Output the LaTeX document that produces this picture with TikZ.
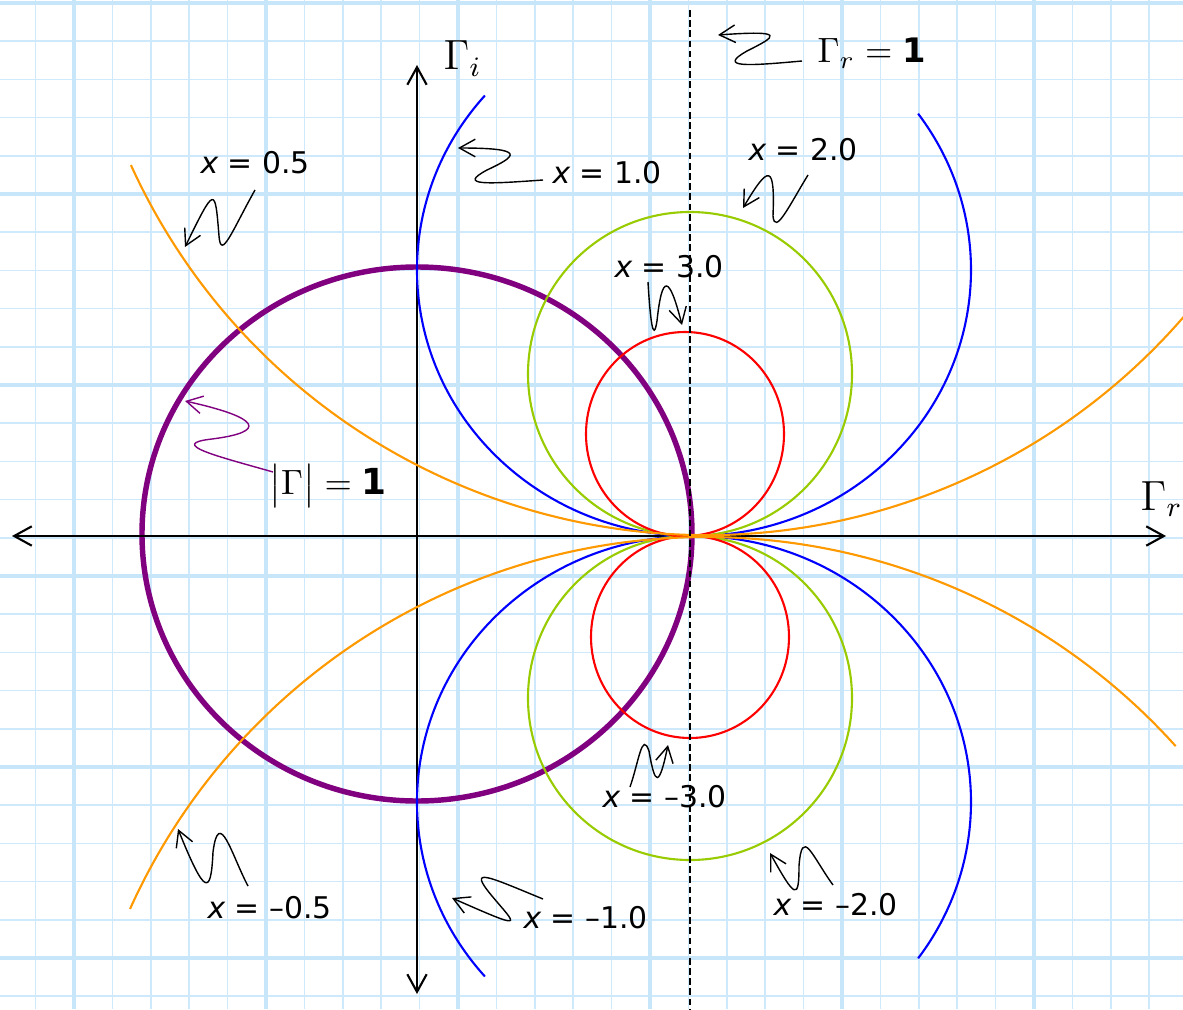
\documentclass[tikz,border=0pt]{standalone}
\usepackage{fontspec}
\newfontfamily\lblfont{DejaVu Sans}
\usetikzlibrary{arrows.meta}

\definecolor{gridmaj}{RGB}{200,230,250}
\definecolor{gridmin}{RGB}{206,233,251}
\definecolor{rxgreen}{RGB}{153,204,0}
\definecolor{rxorange}{RGB}{255,153,0}
\definecolor{gpurple}{RGB}{128,0,128}

\tikzset{
  axis/.style={line width=0.6pt, {Straight Barb[length=5pt,width=5.5pt]}-{Straight Barb[length=5pt,width=5.5pt]}},
  curve/.style={line width=0.6pt},
  squig/.style={line width=0.4pt, -{Straight Barb[length=4.5pt,width=5pt]}},
  xlbl/.style={anchor=base west, inner sep=0pt, font=\lblfont\fontsize{8.5}{10}\selectfont},
  glbl/.style={anchor=base west, inner sep=0pt, font=\fontsize{11.7}{14}\selectfont},
}

\begin{document}
\begin{tikzpicture}[x=0.1mm, y=0.1mm]

    \clip (-417,-473) rectangle (766,536);
    \fill[white] (-417,-473) rectangle (766,536);

    % graph paper
    \foreach \i in {-1,...,28}
        \draw[gridmin, line width=0.15mm] ({-343+38.4*\i},-473) -- ++(0,1009);
    \foreach \j in {0,...,26}
        \draw[gridmin, line width=0.15mm] (-417,{533-38.2*\j}) -- ++(1183,0);
    \foreach \i in {0,5,...,25}
        \draw[gridmaj, line width=0.35mm] ({-343+38.4*\i},-473) -- ++(0,1009);
    \foreach \j in {0,5,...,25}
        \draw[gridmaj, line width=0.35mm] (-417,{533-38.2*\j}) -- ++(1183,0);

    % |Gamma| = 1
    \draw[gpurple, line width=1.55pt] (0,2) ellipse [x radius=275, y radius=267];

    \draw[axis] (-405,0) -- (749,0);
    \draw[axis] (0,471) -- (0,-458);

    % reactance circles
    \draw[curve, blue] (277,266) ++(139:277 and 266) arc[start angle=139, end angle=396, x radius=277, y radius=266];
    \draw[curve, blue] (277,-266) ++(221:277 and 266) arc[start angle=221, end angle=-36, x radius=277, y radius=266];
    \draw[curve, rxgreen] (273,162) circle[radius=162];
    \draw[curve, rxgreen] (273,-162) circle[radius=162];
    \draw[curve, red] (268,102) ellipse[x radius=99, y radius=102];
    \draw[curve, red] (273,-101) ellipse[x radius=99, y radius=101];
    \draw[curve, rxorange] (289,633) ++(204.5:632) arc[start angle=204.5, end angle=325, radius=632];
    \draw[curve, rxorange] (289,-633) ++(155.7:632) arc[start angle=155.7, end angle=42, radius=632];

    % Gamma_r = 1
    \draw[line width=0.4pt, dash pattern=on 1.9pt off 1pt] (273,526) -- (273,-473);

    \node[glbl] (gi) at (26,466) {$\Gamma_i$};
    \node[glbl] (gr) at (723,26) {$\Gamma_r$};
    \node[anchor=base west, inner sep=0pt, font=\fontsize{9.6}{12}\selectfont] (gr1) at (400,473) {$\Gamma_r = \mbox{\lblfont\bfseries 1}$};
    \node[inner sep=0pt, font=\fontsize{10.2}{13}\selectfont] (mag) at (-89,50) {$\bigl|\Gamma\bigr| = \mbox{\lblfont\bfseries 1}$};

    \node[xlbl] (xp05) at (-217,363) {{\itshape x} = 0.5};
    \node[xlbl] (xp1) at (135,353) {{\itshape x} = 1.0};
    \node[xlbl] (xp2) at (331,376) {{\itshape x} = 2.0};
    \node[xlbl] (xp3) at (197,259) {{\itshape x} = 3.0};
    \node[xlbl] (xm3) at (185,-271) {{\itshape x} = –3.0};
    \node[xlbl] (xm1) at (106,-392) {{\itshape x} = –1.0};
    \node[xlbl] (xm2) at (356,-379) {{\itshape x} = –2.0};
    \node[xlbl] (xm05) at (-210,-382) {{\itshape x} = –0.5};

    % pointers
    \draw[squig] (385,475) .. controls (330,470) and (300,468) .. (330,485) .. controls (360,500) and (370,506) .. (301,501);
    \draw[squig] (126,356) .. controls (70,352) and (40,350) .. (70,366) .. controls (100,380) and (110,388) .. (41,388);
    \draw[squig, gpurple] (-144,64) .. controls (-200,80) and (-250,92) .. (-205,97) .. controls (-150,104) and (-155,118) .. (-232,135);
    \draw[squig] (-162,346) .. controls (-185,305) and (-196,275) .. (-198,300) .. controls (-202,350) and (-202,350) .. (-232,289);
    \draw[squig] (391,361) .. controls (372,330) and (358,300) .. (356,320) .. controls (358,372) and (352,372) .. (326,328);
    \draw[squig] (231,254) .. controls (233,220) and (236,190) .. (240,215) .. controls (245,262) and (252,262) .. (265,211);
    \draw[squig] (213,-251) .. controls (222,-225) and (225,-195) .. (232,-215) .. controls (238,-250) and (242,-252) .. (251,-209);
    \draw[squig] (126,-363) .. controls (70,-340) and (50,-330) .. (75,-360) .. controls (100,-390) and (110,-395) .. (35,-362);
    \draw[squig] (416,-349) .. controls (395,-320) and (385,-290) .. (382,-330) .. controls (382,-365) and (378,-362) .. (353,-317);
    \draw[squig] (-169,-350) .. controls (-185,-320) and (-198,-270) .. (-204,-316) .. controls (-206,-360) and (-212,-360) .. (-239,-293);

\end{tikzpicture}
\end{document}
